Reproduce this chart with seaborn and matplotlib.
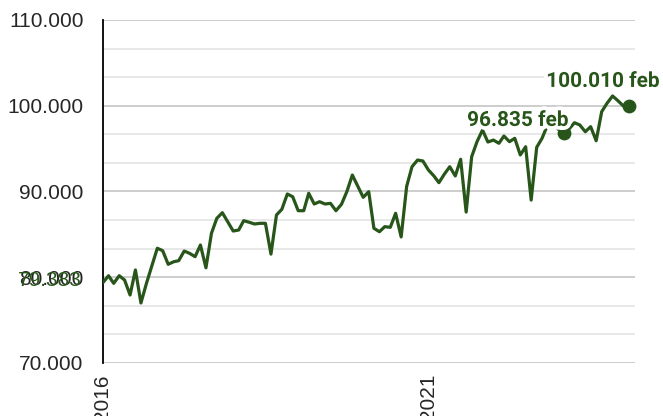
import numpy as np
import pandas as pd
import matplotlib
matplotlib.use("Agg")
import matplotlib.pyplot as plt
import matplotlib.dates as mdates
import matplotlib.patheffects as pe
from matplotlib.ticker import MultipleLocator, FuncFormatter
import seaborn as sns

# monthly values, jan 2016 - feb 2024
values = [79383, 80180, 79290, 80180, 79680, 77930, 80850, 77000, 79290, 81310,
          83380, 83100, 81510, 81810, 81930, 83060, 82790, 82400, 83760, 81100,
          85130, 86870, 87530, 86480, 85390, 85510, 86600, 86410, 86210, 86290,
          86290, 82700, 87260, 87920, 89710, 89390, 87760, 87760, 89790, 88540,
          88810, 88540, 88620, 87760, 88510, 89980, 91920, 90640, 89320, 89980,
          85710, 85310, 85900, 85820, 87460, 84700, 90600, 92890, 93670, 93560,
          92510, 91810, 91030, 92040, 92890, 91810, 93760, 87600, 94060, 95810,
          97170, 95770, 96000, 95620, 96470, 95810, 96200, 94260, 95220, 89000,
          95150, 96200, 97760, 97900, 97250, 96835, 97270, 98020, 97760, 96970,
          97560, 95920, 99310, 100290, 101140, 100590, 99970, 100010]
start_month = "2016-01-01"
highlight_idx = [85, 97]          # feb 2023, feb 2024
year_ticks = ["2016-01-01", "2021-01-01"]
month_names = ["jan", "feb", "mar", "apr", "maj", "jun",
               "jul", "aug", "sep", "okt", "nov", "dec"]

dates = pd.date_range(start_month, periods=len(values), freq="MS")
df = pd.DataFrame({"date": dates, "value": values})

green = "#28561a"

sns.set_style("white")
plt.rcParams["font.family"] = ["Liberation Sans", "DejaVu Sans"]

fig = plt.figure(figsize=(6.63, 4.16), dpi=100)
ax = fig.add_axes([103 / 663, 53 / 416, 532 / 663, 343 / 416])

sns.lineplot(data=df, x="date", y="value", ax=ax, color=green, lw=2.3, zorder=3)

def thousands(v, pos=None):
    return f"{v:,.0f}".replace(",", ".")

# value labels
for i, (dx, dy) in zip(highlight_idx, [(3.6, 5.0), (22.5, 13.5)]):
    d, v = df.date[i], df.value[i]
    ax.scatter([d], [v], s=80, color=green, zorder=4, clip_on=False)
    ax.annotate(f"{thousands(v)} {month_names[d.month - 1]}", xy=(d, v),
                xytext=(dx, dy), textcoords="offset points", ha="right",
                va="baseline", fontsize=15, fontweight="bold", color=green,
                family=["Roboto", "DejaVu Sans"], zorder=5,
                annotation_clip=False,
                path_effects=[pe.withStroke(linewidth=5.5, foreground="white")])

# first value next to the y axis
ax.annotate(thousands(values[0]), xy=(dates[0], values[0]), xytext=(-21, 2),
            textcoords="offset pixels", ha="right", va="center",
            fontsize=15, color=green, annotation_clip=False)

ax.set_ylim(70000, 110000)
ax.set_xlim(pd.Timestamp(start_month), pd.Timestamp("2024-03-06"))
ax.yaxis.set_major_locator(MultipleLocator(10000))
ax.yaxis.set_minor_locator(MultipleLocator(10000 / 3))
ax.yaxis.set_major_formatter(FuncFormatter(thousands))
ax.set_xticks(pd.to_datetime(year_ticks))
ax.xaxis.set_major_formatter(mdates.DateFormatter("%Y"))

ax.grid(False)
ax.yaxis.grid(True, which="major", color="#c9c9c9", lw=1.3, zorder=0)
ax.yaxis.grid(True, which="minor", color="#e6e6e6", lw=1.3, zorder=0)

for s in ["top", "right", "bottom"]:
    ax.spines[s].set_visible(False)
ax.spines["left"].set_color("black")
ax.spines["left"].set_linewidth(1.3)

ax.tick_params(axis="y", which="major", direction="inout", length=14,
               width=1.2, color="black", labelsize=15, pad=7)
ax.tick_params(axis="y", which="minor", direction="inout", length=7,
               width=1.2, color="black")
ax.tick_params(axis="x", length=0, labelsize=15, pad=8, labelrotation=90)

ax.set_xlabel("")
ax.set_ylabel("")

fig.savefig("out.png", dpi=100)
